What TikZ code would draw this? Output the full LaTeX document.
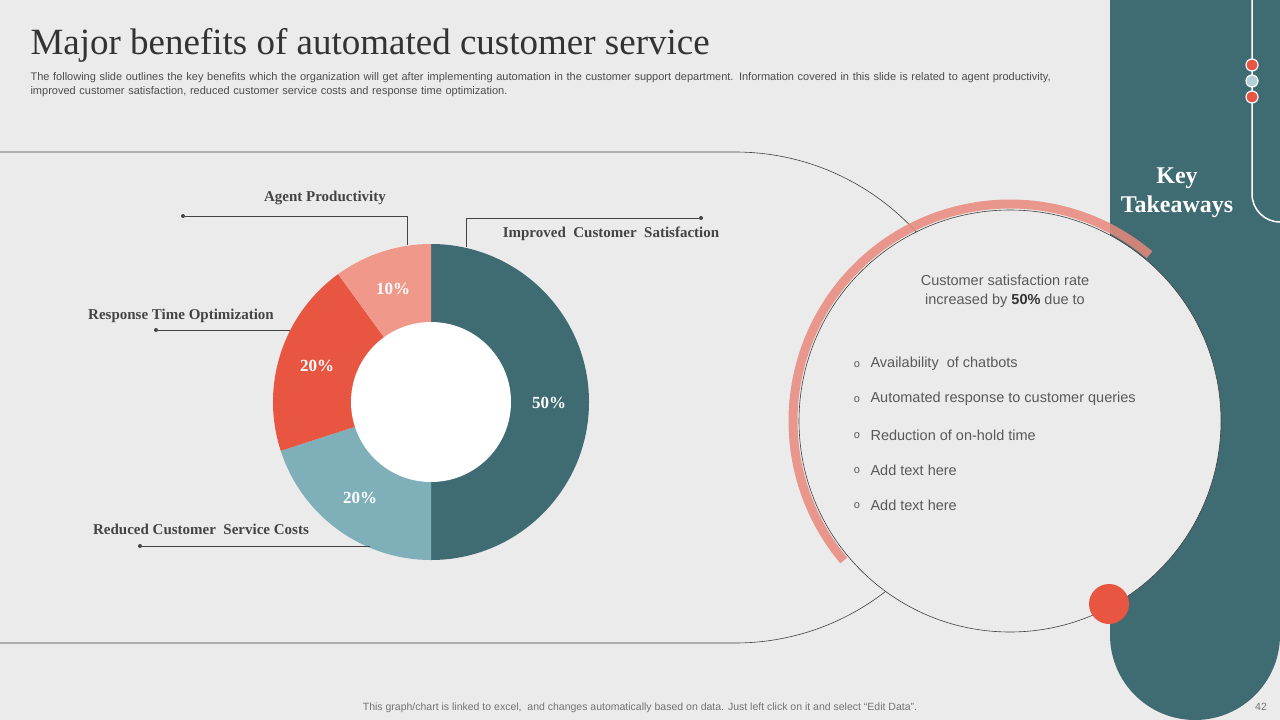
\documentclass[tikz,border=0pt]{standalone}
\usepackage{fontspec}
\setmainfont{Liberation Serif}
\setsansfont{Liberation Sans}
\usetikzlibrary{calc}
\begin{document}
\begin{tikzpicture}[x=1pt,y=-1pt]
\definecolor{bg}{HTML}{EBEBEB}
\definecolor{teal}{HTML}{3F6B73}
\definecolor{lblue}{HTML}{7FB0BA}
\definecolor{red}{HTML}{E85642}
\definecolor{pink}{HTML}{F0988A}
\definecolor{salmon}{HTML}{E9897C}
\definecolor{txt}{HTML}{444444}
\tikzset{lab/.style={font=\fontsize{15}{17}\selectfont\bfseries, text=txt},
 pct/.style={font=\fontsize{17}{19}\selectfont\bfseries, text=white},
 item/.style={font=\sffamily\fontsize{14.5}{16}\selectfont, text=black!65, anchor=west},
 bul/.style={font=\sffamily\fontsize{11}{11}\selectfont, text=black!65},
 dotc/.style={circle, fill=txt, inner sep=0pt, minimum size=4pt}}
\fill[bg] (0,0) rectangle (1280,720);
\useasboundingbox (0,0) rectangle (1280,720);
% teal panel
\fill[teal] (1110,0) -- (1280,0) -- (1280,635) arc[start angle=0,end angle=180,radius=85] -- cycle;
\draw[white,line width=1.5pt] (1252,0) -- (1252,194) arc[start angle=180,end angle=90,radius=28];
\foreach \y/\c in {65/red,81/lblue!60!white,97/red}
  \node[circle,fill=\c,draw=white,line width=1.2pt,minimum size=12pt,inner sep=0pt] (d\y) at (1252,\y) {};
\node[font=\fontsize{24}{29}\selectfont\bfseries,text=white,align=center] (kt) at (1177,193) {Key\\Takeaways};
% big outline
\draw[black!75,line width=0.6pt] (0,152) -- (735,152) arc[start angle=-90,end angle=90,radius=245.5] -- (0,643);
% circle
\fill[bg] (1010,421) circle (211);
\draw[black!75,line width=0.6pt] (1010,421) circle (211);
\draw[salmon,opacity=0.85,line width=9pt] ($(1010,421)+(-50:217)$) arc[start angle=-50,end angle=-220,radius=217];
\node[circle,fill=red,minimum size=40pt,inner sep=0pt] (rd) at (1109,604) {};
\node[font=\sffamily\fontsize{14.5}{19}\selectfont,text=black!65,align=center] (cs) at (1005,291) {Customer satisfaction rate\\increased by \textbf{\color{black!80}50\%} due to};
\foreach \y/\t in {364/Availability\ \ of chatbots,399/Automated response to customer queries,435/Reduction of on-hold time,470/Add text here,505/Add text here}{
  \node[bul] at (857,\y+1) {o};
  \node[item] at (867,\y) {\t};}
% pie
\def\cx{431}\def\cy{402}
\fill[teal] (\cx,\cy) -- +(-90:158) arc[start angle=-90,end angle=90,radius=158] -- cycle;
\fill[lblue] (\cx,\cy) -- +(90:158) arc[start angle=90,end angle=162,radius=158] -- cycle;
\fill[red] (\cx,\cy) -- +(162:158) arc[start angle=162,end angle=234,radius=158] -- cycle;
\fill[pink] (\cx,\cy) -- +(234:158) arc[start angle=234,end angle=270,radius=158] -- cycle;
\fill[white] (\cx,\cy) circle (80);
\node[pct] (p1) at (393,289) {10\%};
\node[pct] (p2) at (317,366) {20\%};
\node[pct] (p3) at (549,403) {50\%};
\node[pct] (p4) at (360,498) {20\%};
% callouts
\node[lab] (l1) at (325,198) {Agent Productivity};
\node[dotc] (c1) at (183,216) {};
\draw[txt,line width=0.7pt] (c1) -- (407,216) -- (407,245);
\node[lab] (l2) at (611,234) {Improved\ \ Customer\ \ Satisfaction};
\node[dotc] (c2) at (701,218) {};
\draw[txt,line width=0.7pt] (c2) -- (466,218) -- (466,247);
\node[lab] (l3) at (181,316) {Response Time Optimization};
\node[dotc] (c3) at (156,330) {};
\draw[txt,line width=0.7pt] (c3) -- (290,330);
\node[lab] (l4) at (201,529) {Reduced Customer\ \ Service Costs};
\node[dotc] (c4) at (140,546) {};
\draw[txt,line width=0.7pt] (c4) -- (370,546);
% title
\node[anchor=west,font=\fontsize{37}{42}\selectfont,text=black!80] (t) at (27,45) {Major benefits of automated customer service};
\node[anchor=north west,font=\sffamily\fontsize{11}{14}\selectfont,text=black!70,text width=1030pt,align=left] (st) at (27,69) {The following slide outlines the key benefits which the organization will get after implementing automation in the customer support department. Information covered in this slide is related to agent productivity,\ \ improved customer satisfaction, reduced customer service costs and response time optimization.};
\node[font=\sffamily\fontsize{10.5}{12}\selectfont,text=black!55] (ft) at (640,708) {This graph/chart is linked to excel,\ \ and changes automatically based on data. Just left click on it and select “Edit Data”.};
\node[font=\sffamily\fontsize{10.5}{12}\selectfont,text=black!55] (pg) at (1261,707) {42};
\end{tikzpicture}
\end{document}
